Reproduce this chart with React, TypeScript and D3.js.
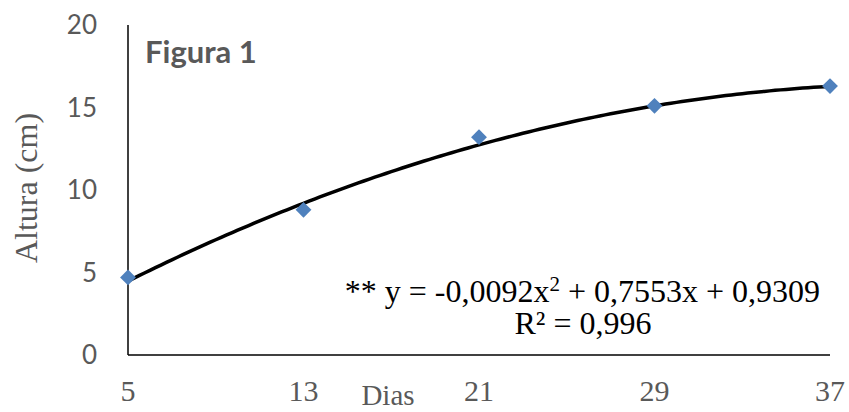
import React from "react";
import * as d3 from "d3";

const days = [5, 13, 21, 29, 37];
const altura = [4.7, 8.8, 13.2, 15.1, 16.3];
const yTicks = [0, 5, 10, 15, 20];
const xTicks = [5, 13, 21, 29, 37];
const coefA = -0.0092;
const coefB = 0.7553;
const coefC = 0.9309;
const equationLabel = "** y = -0,0092x";
const equationRest = " + 0,7553x + 0,9309";
const r2Label = "R² = 0,996";

export default function App() {
  const W = 849, H = 412;
  const x = d3.scaleLinear().domain([5, 37]).range([128, 830]);
  const y = d3.scaleLinear().domain([0, 20]).range([355, 25]);
  const trendX = d3.range(5, 37.001, 0.25);
  const line = d3
    .line<number>()
    .x((d) => x(d))
    .y((d) => y(coefA * d * d + coefB * d + coefC))
    .curve(d3.curveLinear);
  const sans = "Lato, 'Open Sans', sans-serif";
  const serif = "'Liberation Serif', 'DejaVu Serif', serif";
  const diamond = d3.symbol().type(d3.symbolDiamond2).size(160)();
  return (
    <svg width={W} height={H} style={{ position: "absolute", left: 0, top: 0 }}>
      <rect width={W} height={H} fill="#fff" />
      <line x1={x(5)} x2={x(5)} y1={y(20)} y2={y(0)} stroke="#000" strokeWidth={1.5} />
      <line x1={x(5)} x2={x(37)} y1={y(0)} y2={y(0)} stroke="#000" strokeWidth={1.5} />
      {yTicks.map((t) => (
        <text key={t} x={97} y={y(t)} dy="0.35em" textAnchor="end" fontFamily={sans} fontSize={26} fill="#595959">
          {t}
        </text>
      ))}
      {xTicks.map((t) => (
        <text key={t} x={x(t)} y={401} textAnchor="middle" fontFamily={serif} fontSize={30} fill="#595959">
          {t}
        </text>
      ))}
      <text x={388} y={405} textAnchor="middle" fontFamily={serif} fontSize={29} fill="#595959">
        Dias
      </text>
      <text
        transform={`translate(37, 188) rotate(-90)`}
        textAnchor="middle"
        fontFamily={serif}
        fontSize={32}
        fill="#595959"
      >
        Altura (cm)
      </text>
      <text x={145} y={63} fontFamily={sans} fontWeight="bold" fontSize={31} fill="#595959">
        Figura 1
      </text>
      <path d={line(trendX) || ""} fill="none" stroke="#000" strokeWidth={3.5} />
      {days.map((d, i) => (
        <path key={d} d={diamond || ""} transform={`translate(${x(d)},${y(altura[i])})`} fill="#4F81BD" />
      ))}
      <text x={820} y={302} textAnchor="end" fontFamily={serif} fontSize={32} fill="#000">
        {equationLabel}
        <tspan dy={-11} fontSize={21}>2</tspan>
        <tspan dy={11}>{equationRest}</tspan>
      </text>
      <text x={583} y={334} textAnchor="middle" fontFamily={serif} fontSize={32} fill="#000">
        {r2Label}
      </text>
    </svg>
  );
}
